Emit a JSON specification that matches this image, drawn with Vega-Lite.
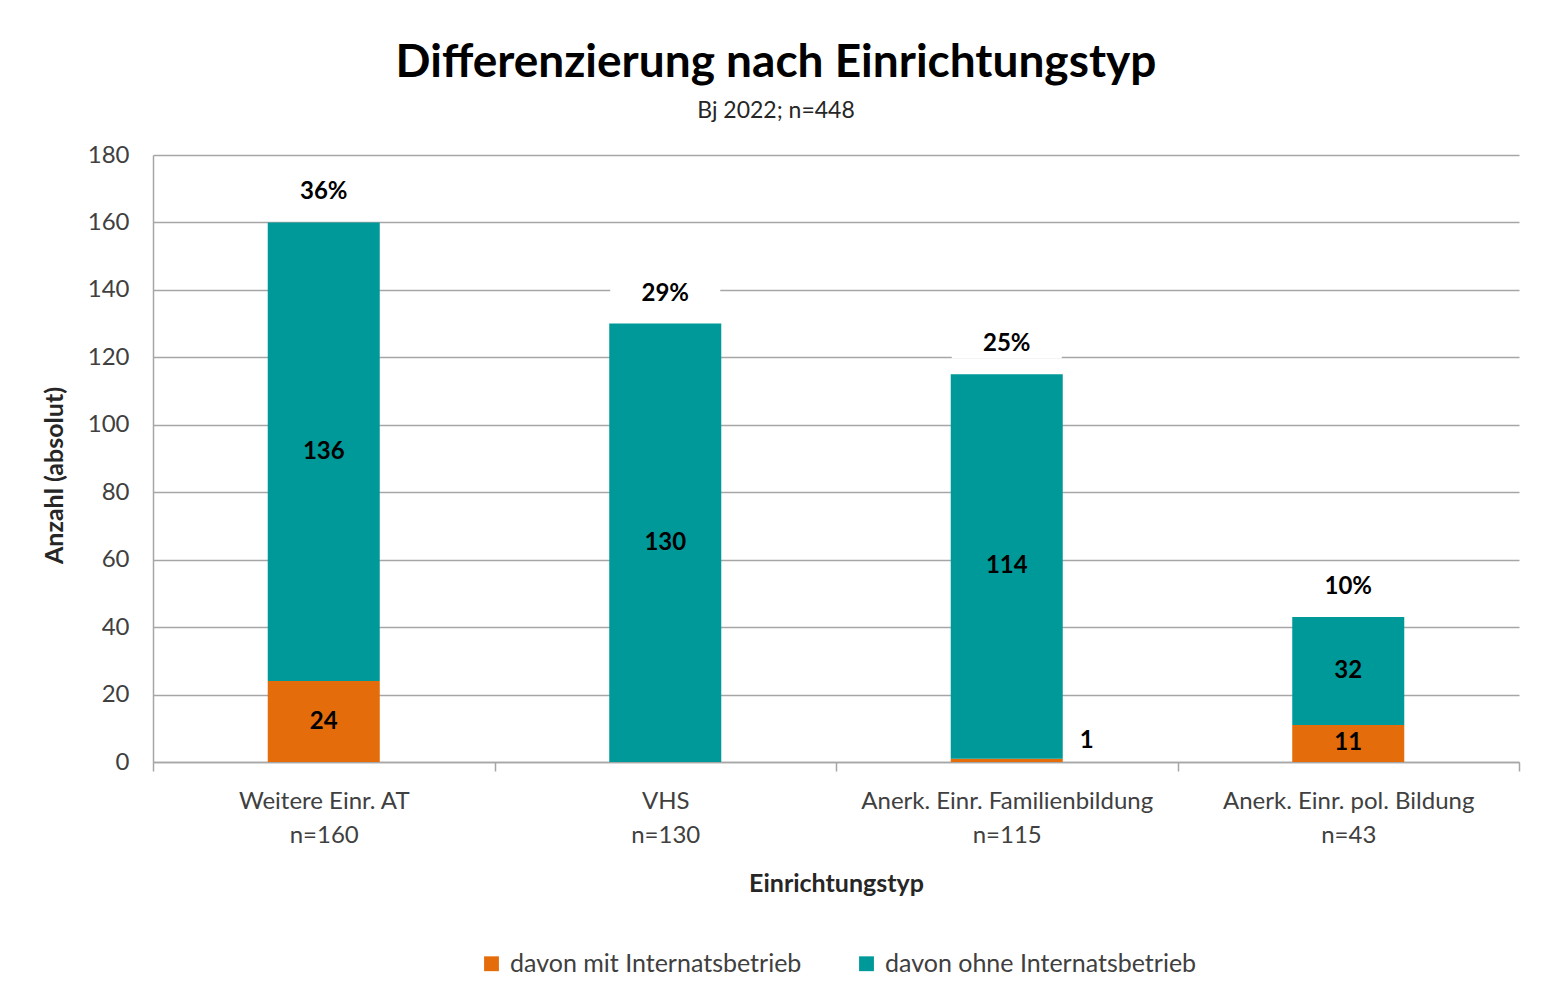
{
  "$schema": "https://vega.github.io/schema/vega-lite/v6.json",
  "width": 1366,
  "height": 607,
  "autosize": "none",
  "padding": {"left": 153, "top": 155, "right": 22, "bottom": 246},
  "background": "white",
  "config": {
    "font": "Lato",
    "view": {"stroke": null},
    "axis": {"labelColor": "#404040", "titleColor": "#262626", "domainColor": "#A6A6A6", "tickColor": "#A6A6A6", "gridColor": "#A6A6A6", "domainWidth": 1.5, "tickWidth": 1.5, "gridWidth": 1.5},
    "axisY": {
      "titleFontSize": 25,
      "titleFontWeight": "bold",
      "titlePadding": 20,
      "titleY": 320,
      "labelFontSize": 24,
      "labelPadding": 24,
      "ticks": false,
      "grid": true
    }
  },
  "title": {
    "text": "Differenzierung nach Einrichtungstyp",
    "subtitle": "Bj 2022; n=448",
    "anchor": "middle",
    "dx": -60,
    "fontSize": 46,
    "fontWeight": "bold",
    "color": "#000000",
    "subtitleFontSize": 23,
    "subtitleColor": "#262626",
    "subtitlePadding": 13,
    "offset": 19
  },
  "datasets": {
    "seg": [
      {"cat": "Weitere Einr. AT|n=160", "series": "davon mit Internatsbetrieb", "value": 24},
      {"cat": "Weitere Einr. AT|n=160", "series": "davon ohne Internatsbetrieb", "value": 136},
      {"cat": "VHS|n=130", "series": "davon mit Internatsbetrieb", "value": 0},
      {"cat": "VHS|n=130", "series": "davon ohne Internatsbetrieb", "value": 130},
      {"cat": "Anerk. Einr. Familienbildung|n=115", "series": "davon mit Internatsbetrieb", "value": 1},
      {"cat": "Anerk. Einr. Familienbildung|n=115", "series": "davon ohne Internatsbetrieb", "value": 114},
      {"cat": "Anerk. Einr. pol. Bildung|n=43", "series": "davon mit Internatsbetrieb", "value": 11},
      {"cat": "Anerk. Einr. pol. Bildung|n=43", "series": "davon ohne Internatsbetrieb", "value": 32}
    ],
    "tot": [
      {"cat": "Weitere Einr. AT|n=160", "total": 160, "pct": "36%"},
      {"cat": "VHS|n=130", "total": 130, "pct": "29%"},
      {"cat": "Anerk. Einr. Familienbildung|n=115", "total": 115, "pct": "25%"},
      {"cat": "Anerk. Einr. pol. Bildung|n=43", "total": 43, "pct": "10%"}
    ]
  },
  "encoding": {
    "x": {
      "field": "cat",
      "type": "nominal",
      "sort": ["Weitere Einr. AT|n=160", "VHS|n=130", "Anerk. Einr. Familienbildung|n=115", "Anerk. Einr. pol. Bildung|n=43"],
      "scale": {"paddingInner": 0, "paddingOuter": 0},
      "axis": {
        "title": "Einrichtungstyp",
        "titleFontSize": 25,
        "titleFontWeight": "bold",
        "titlePadding": 24,
        "labelExpr": "split(datum.label, '|')",
        "labelAngle": 0,
        "labelFontSize": 24,
        "labelLimit": 0,
        "labelLineHeight": 34,
        "labelPadding": 18,
        "tickBand": "extent",
        "tickSize": 9,
        "grid": false
      }
    }
  },
  "layer": [
    {
      "data": {"name": "seg"},
      "mark": {"type": "bar", "width": {"band": 0.328}},
      "encoding": {
        "y": {
          "field": "value",
          "type": "quantitative",
          "stack": "zero",
          "scale": {"domain": [0, 180], "nice": false},
          "title": "Anzahl (absolut)",
          "axis": {"values": [0, 20, 40, 60, 80, 100, 120, 140, 160, 180]}
        },
        "order": {"field": "series", "sort": "ascending"},
        "color": {
          "field": "series",
          "type": "nominal",
          "scale": {"domain": ["davon mit Internatsbetrieb", "davon ohne Internatsbetrieb"], "range": ["#E46C0A", "#009999"]},
          "legend": {
            "title": null,
            "orient": "none",
            "direction": "horizontal",
            "legendX": 326,
            "legendY": 796,
            "symbolType": "square",
            "symbolSize": 220,
            "labelFontSize": 25,
            "labelLimit": 0,
            "labelColor": "#404040",
            "columnPadding": 52,
            "labelOffset": 6
          }
        }
      }
    },
    {
      "data": {"name": "tot"},
      "mark": {"type": "point", "shape": "M-1,-0.28H1V0.28H-1Z", "filled": true, "fill": "white", "opacity": 1, "size": 12100, "yOffset": -31},
      "encoding": {
        "y": {"field": "total", "type": "quantitative", "title": "Anzahl (absolut)", "axis": {"values": [0, 20, 40, 60, 80, 100, 120, 140, 160, 180]}}
      }
    },
    {
      "data": {"name": "tot"},
      "mark": {"type": "text", "fontSize": 24, "fontWeight": "bold", "color": "#000000", "yOffset": -30},
      "encoding": {
        "y": {"field": "total", "type": "quantitative", "title": "Anzahl (absolut)", "axis": {"values": [0, 20, 40, 60, 80, 100, 120, 140, 160, 180]}},
        "text": {"field": "pct", "type": "nominal"}
      }
    },
    {
      "data": {"name": "seg"},
      "mark": {"type": "text", "fontSize": 24, "fontWeight": "bold", "color": "#000000"},
      "encoding": {
        "y": {"field": "value", "type": "quantitative", "stack": "zero", "bandPosition": 0.5, "title": "Anzahl (absolut)", "axis": {"values": [0, 20, 40, 60, 80, 100, 120, 140, 160, 180]}},
        "order": {"field": "series", "sort": "ascending"},
        "detail": {"field": "series", "type": "nominal"},
        "text": {"field": "value", "type": "quantitative", "condition": {"test": "datum.value < 5", "value": ""}}
      }
    },
    {
      "data": {"name": "seg"},
      "transform": [{"filter": "datum.value > 0 && datum.value < 5"}],
      "mark": {"type": "text", "fontSize": 24, "fontWeight": "bold", "color": "#000000", "dx": 80, "dy": -18},
      "encoding": {
        "y": {"field": "value", "type": "quantitative", "title": "Anzahl (absolut)", "axis": {"values": [0, 20, 40, 60, 80, 100, 120, 140, 160, 180]}},
        "text": {"field": "value", "type": "quantitative"}
      }
    }
  ]
}
